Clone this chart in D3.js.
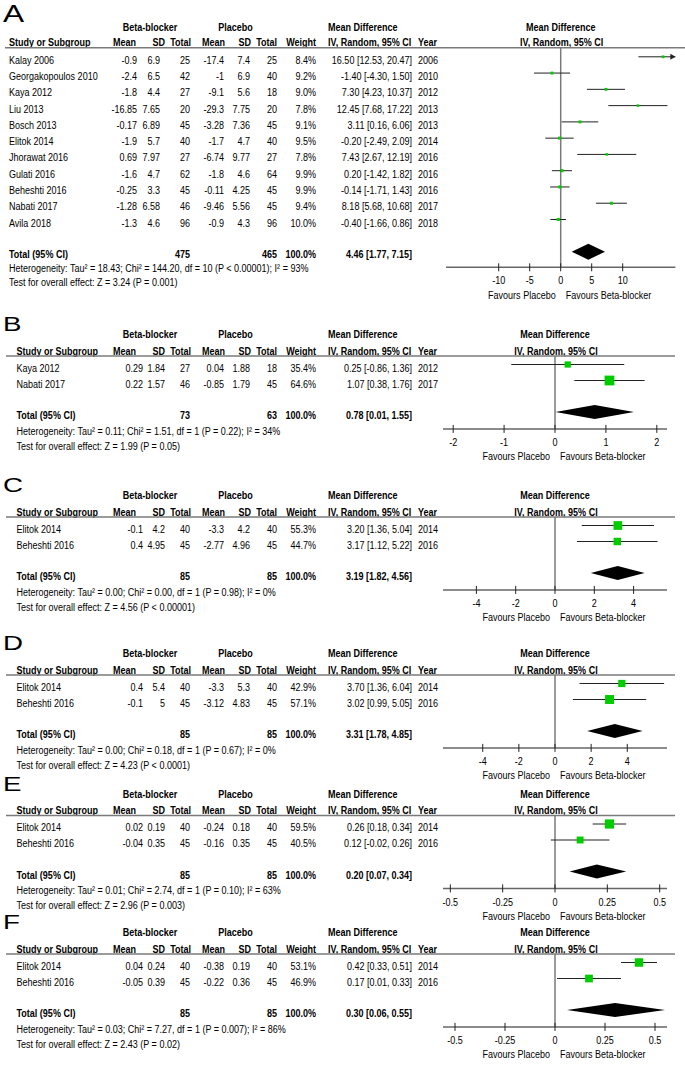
<!DOCTYPE html>
<html><head><meta charset="utf-8">
<script src="https://cdn.jsdelivr.net/npm/d3@7"></script>
<style>html,body{margin:0;padding:0;background:#fff}</style>
</head><body>
<svg id="c" width="685" height="1089"></svg>
<script>
// ---------------- DATA ----------------
// Panel A
const studiesA = ["Kalay 2006","Georgakopoulos 2010","Kaya 2012","Liu 2013","Bosch 2013","Elitok 2014","Jhorawat 2016","Gulati 2016","Beheshti 2016","Nabati 2017","Avila 2018"];
const bbMeanA = [-0.9,-2.4,-1.8,-16.85,-0.17,-1.9,0.69,-1.6,-0.25,-1.28,-1.3];
const bbSdA   = [6.9,6.5,4.4,7.65,6.89,5.7,7.97,4.7,3.3,6.58,4.6];
const bbNA    = [25,42,27,20,45,40,27,62,45,46,96];
const plMeanA = [-17.4,-1,-9.1,-29.3,-3.28,-1.7,-6.74,-1.8,-0.11,-9.46,-0.9];
const plSdA   = [7.4,6.9,5.6,7.75,7.36,4.7,9.77,4.6,4.25,5.56,4.3];
const plNA    = [25,40,18,20,45,40,27,64,45,45,96];
const weightA = [8.4,9.2,9.0,7.8,9.1,9.5,7.8,9.9,9.9,9.4,10.0];
const mdA     = [16.50,-1.40,7.30,12.45,3.11,-0.20,7.43,0.20,-0.14,8.18,-0.40];
const loA     = [12.53,-4.30,4.23,7.68,0.16,-2.49,2.67,-1.42,-1.71,5.68,-1.66];
const hiA     = [20.47,1.50,10.37,17.22,6.06,2.09,12.19,1.82,1.43,10.68,0.86];
const yearA   = [2006,2010,2012,2013,2013,2014,2016,2016,2016,2017,2018];
const totalA  = {bbN:475, plN:465, md:4.46, lo:1.77, hi:7.15};
const hetA    = "Heterogeneity: Tau² = 18.43; Chi² = 144.20, df = 10 (P < 0.00001); I² = 93%";
const testA   = "Test for overall effect: Z = 3.24 (P = 0.001)";
const ticksA  = [-10,-5,0,5,10];

// Panel B
const studiesB = ["Kaya 2012","Nabati 2017"];
const bbMeanB = [0.29,0.22], bbSdB = [1.84,1.57], bbNB = [27,46];
const plMeanB = [0.04,-0.85], plSdB = [1.88,1.79], plNB = [18,45];
const weightB = [35.4,64.6];
const mdB = [0.25,1.07], loB = [-0.86,0.38], hiB = [1.36,1.76];
const yearB = [2012,2017];
const totalB = {bbN:73, plN:63, md:0.78, lo:0.01, hi:1.55};
const hetB = "Heterogeneity: Tau² = 0.11; Chi² = 1.51, df = 1 (P = 0.22); I² = 34%";
const testB = "Test for overall effect: Z = 1.99 (P = 0.05)";
const ticksB = [-2,-1,0,1,2];

// Panel C
const studiesC = ["Elitok 2014","Beheshti 2016"];
const bbMeanC = [-0.1,0.4], bbSdC = [4.2,4.95], bbNC = [40,45];
const plMeanC = [-3.3,-2.77], plSdC = [4.2,4.96], plNC = [40,45];
const weightC = [55.3,44.7];
const mdC = [3.20,3.17], loC = [1.36,1.12], hiC = [5.04,5.22];
const yearC = [2014,2016];
const totalC = {bbN:85, plN:85, md:3.19, lo:1.82, hi:4.56};
const hetC = "Heterogeneity: Tau² = 0.00; Chi² = 0.00, df = 1 (P = 0.98); I² = 0%";
const testC = "Test for overall effect: Z = 4.56 (P < 0.00001)";
const ticksC = [-4,-2,0,2,4];

// Panel D
const studiesD = ["Elitok 2014","Beheshti 2016"];
const bbMeanD = [0.4,-0.1], bbSdD = [5.4,5], bbND = [40,45];
const plMeanD = [-3.3,-3.12], plSdD = [5.3,4.83], plND = [40,45];
const weightD = [42.9,57.1];
const mdD = [3.70,3.02], loD = [1.36,0.99], hiD = [6.04,5.05];
const yearD = [2014,2016];
const totalD = {bbN:85, plN:85, md:3.31, lo:1.78, hi:4.85};
const hetD = "Heterogeneity: Tau² = 0.00; Chi² = 0.18, df = 1 (P = 0.67); I² = 0%";
const testD = "Test for overall effect: Z = 4.23 (P < 0.0001)";
const ticksD = [-4,-2,0,2,4];

// Panel E
const studiesE = ["Elitok 2014","Beheshti 2016"];
const bbMeanE = [0.02,-0.04], bbSdE = [0.19,0.35], bbNE = [40,45];
const plMeanE = [-0.24,-0.16], plSdE = [0.18,0.35], plNE = [40,45];
const weightE = [59.5,40.5];
const mdE = [0.26,0.12], loE = [0.18,-0.02], hiE = [0.34,0.26];
const yearE = [2014,2016];
const totalE = {bbN:85, plN:85, md:0.20, lo:0.07, hi:0.34};
const hetE = "Heterogeneity: Tau² = 0.01; Chi² = 2.74, df = 1 (P = 0.10); I² = 63%";
const testE = "Test for overall effect: Z = 2.96 (P = 0.003)";
const ticksE = [-0.5,-0.25,0,0.25,0.5];

// Panel F
const studiesF = ["Elitok 2014","Beheshti 2016"];
const bbMeanF = [0.04,-0.05], bbSdF = [0.24,0.39], bbNF = [40,45];
const plMeanF = [-0.38,-0.22], plSdF = [0.19,0.36], plNF = [40,45];
const weightF = [53.1,46.9];
const mdF = [0.42,0.17], loF = [0.33,0.01], hiF = [0.51,0.33];
const yearF = [2014,2016];
const totalF = {bbN:85, plN:85, md:0.30, lo:0.06, hi:0.55};
const hetF = "Heterogeneity: Tau² = 0.03; Chi² = 7.27, df = 1 (P = 0.007); I² = 86%";
const testF = "Test for overall effect: Z = 2.43 (P = 0.02)";
const ticksF = [-0.5,-0.25,0,0.25,0.5];

// ---------------- BUILD ----------------
function mk(letter, studies, bbMean, bbSd, bbN, plMean, plSd, plN, weight, md, lo, hi, year, total, het, test, ticks) {
  return {letter, total, het, test, ticks,
    rows: studies.map((s,i)=>({name:s, bbMean:bbMean[i], bbSd:bbSd[i], bbN:bbN[i], plMean:plMean[i], plSd:plSd[i], plN:plN[i], w:weight[i], md:md[i], lo:lo[i], hi:hi[i], year:year[i]}))};
}
const panels = [
  mk("A",studiesA,bbMeanA,bbSdA,bbNA,plMeanA,plSdA,plNA,weightA,mdA,loA,hiA,yearA,totalA,hetA,testA,ticksA),
  mk("B",studiesB,bbMeanB,bbSdB,bbNB,plMeanB,plSdB,plNB,weightB,mdB,loB,hiB,yearB,totalB,hetB,testB,ticksB),
  mk("C",studiesC,bbMeanC,bbSdC,bbNC,plMeanC,plSdC,plNC,weightC,mdC,loC,hiC,yearC,totalC,hetC,testC,ticksC),
  mk("D",studiesD,bbMeanD,bbSdD,bbND,plMeanD,plSdD,plND,weightD,mdD,loD,hiD,yearD,totalD,hetD,testD,ticksD),
  mk("E",studiesE,bbMeanE,bbSdE,bbNE,plMeanE,plSdE,plNE,weightE,mdE,loE,hiE,yearE,totalE,hetE,testE,ticksE),
  mk("F",studiesF,bbMeanF,bbSdF,bbNF,plMeanF,plSdF,plNF,weightF,mdF,loF,hiF,yearF,totalF,hetF,testF,ticksF)
];

// layout (style only)
const layoutA = {h1:27.3, studyX:9, sepX0:5, sepX1:685, dom:[-18.5,18.5], rng:[446,675.4], bbMeanX:137, bbSdX:160,
  h2:15.4, sep:20.4, row0:33, step:16.27, total:227.4, het:241.4, test:255.4, axis:240, tick:253.4, fav:268.4, dia:224.4, diaH:8, sqK:0.55, letterSize:24, letterDy:-5.3};
function lay(h1, dom){ return {h1, studyX:16.5, sepX0:6, sepX1:675, dom, rng:[443,667], bbMeanX:143, bbSdX:165,
  h2:16.5, sep:21.5, row0:33.5, step:16, total:81, het:96.5, test:111.5, axis:94.4, tick:108.4, fav:122.4, dia:77.5, diaH:7, sqK:0.43, letterSize:21, letterDy:-3.5}; }
const layouts = [layoutA, lay(334.5,[-2.2,2.2]), lay(495.5,[-5.7,5.7]), lay(653.5,[-6.2,6.2]), lay(794,[-0.535,0.535]), lay(932.5,[-0.56,0.56])];

// font detection
function hasFont(f){ const c=document.createElement('canvas').getContext('2d'); c.font='40px monospace'; const a=c.measureText('Study or Subgroup 0123').width; c.font="40px '"+f+"', monospace"; const b=c.measureText('Study or Subgroup 0123').width; return Math.abs(a-b)>0.5; }
const NARROW = hasFont('Liberation Sans Narrow');
const FAM = NARROW ? "'Liberation Sans Narrow', sans-serif" : "'Liberation Sans', Arial, sans-serif";
const SX = NARROW ? 1 : 0.82;

const svg = d3.select('#c');
function txt(g, x, y, s, o={}) {
  return g.append('text')
    .attr('transform', `translate(${x},${y}) scale(${o.sx ?? SX},1)`)
    .attr('text-anchor', o.anchor || 'start')
    .attr('font-family', o.fam || FAM)
    .attr('font-size', o.size || 11)
    .attr('font-weight', o.bold ? 'bold' : 'normal')
    .attr('fill', '#000')
    .text(s);
}
const B = 3.5; // baseline shift from measured row centre
const f2 = v => v.toFixed(2);
const ci = (m,l,h) => `${f2(m)} [${f2(l)}, ${f2(h)}]`;

const X = {bbMeanH:136, bbSdH:165, bbN:190, plMean:224, plSd:250, plN:277, w:316, ci:412, ciH:328, year:418};

panels.forEach((p, pi) => {
  const L = layouts[pi];
  const g = svg.append('g');
  const y0 = L.h1;
  const x = d3.scaleLinear().domain(L.dom).range(L.rng);
  const zx = x(0);

  // letter
  txt(g, 3, y0 + L.letterDy, p.letter, {size:L.letterSize, sx:1.32, fam:"'Liberation Sans', Arial, sans-serif"});

  // header row 1
  txt(g, 150, y0 + B, 'Beta-blocker', {anchor:'middle', bold:true});
  txt(g, 235.5, y0 + B, 'Placebo', {anchor:'middle', bold:true});
  txt(g, X.ciH, y0 + B, 'Mean Difference', {bold:true});
  txt(g, zx, y0 + B, 'Mean Difference', {anchor:'middle', bold:true});
  // header row 2
  const yh2 = y0 + L.h2 + B;
  txt(g, L.studyX, yh2, 'Study or Subgroup', {bold:true});
  txt(g, X.bbMeanH, yh2, 'Mean', {anchor:'end', bold:true});
  txt(g, X.bbSdH, yh2, 'SD', {anchor:'end', bold:true});
  txt(g, X.bbN + 1, yh2, 'Total', {anchor:'end', bold:true});
  txt(g, X.plMean + 1, yh2, 'Mean', {anchor:'end', bold:true});
  txt(g, X.plSd + 1, yh2, 'SD', {anchor:'end', bold:true});
  txt(g, X.plN, yh2, 'Total', {anchor:'end', bold:true});
  txt(g, X.w, yh2, 'Weight', {anchor:'end', bold:true});
  txt(g, X.ciH, yh2, 'IV, Random, 95% CI', {bold:true});
  txt(g, X.year, yh2, 'Year', {bold:true});
  txt(g, zx + 1, yh2, 'IV, Random, 95% CI', {anchor:'middle', bold:true});

  // separator
  const ys = y0 + L.sep;
  g.append('line').attr('x1', L.sepX0).attr('x2', L.sepX1).attr('y1', ys).attr('y2', ys)
    .attr('stroke', '#7a7a7a').attr('stroke-width', 1.5);

  // zero line
  const ya = y0 + L.axis;
  g.append('line').attr('x1', zx).attr('x2', zx).attr('y1', ys).attr('y2', ya)
    .attr('stroke', '#7a7a7a').attr('stroke-width', 1.5);

  // study rows
  p.rows.forEach((r, i) => {
    const yr = y0 + L.row0 + i * L.step;
    const yt = yr + B;
    txt(g, L.studyX, yt, r.name);
    txt(g, L.bbMeanX, yt, String(r.bbMean), {anchor:'end'});
    txt(g, L.bbSdX, yt, String(r.bbSd), {anchor:'end'});
    txt(g, X.bbN, yt, String(r.bbN), {anchor:'end'});
    txt(g, X.plMean, yt, String(r.plMean), {anchor:'end'});
    txt(g, X.plSd, yt, String(r.plSd), {anchor:'end'});
    txt(g, X.plN, yt, String(r.plN), {anchor:'end'});
    txt(g, X.w, yt, r.w.toFixed(1) + '%', {anchor:'end'});
    txt(g, X.ci, yt, ci(r.md, r.lo, r.hi), {anchor:'end'});
    txt(g, X.year, yt, String(r.year));

    // CI line
    const ym = yr - 3.5;
    const dmax = L.dom[1], dmin = L.dom[0];
    const lx1 = x(Math.max(r.lo, dmin)), lx2 = x(Math.min(r.hi, dmax));
    g.append('line').attr('x1', lx1).attr('x2', lx2).attr('y1', ym).attr('y2', ym)
      .attr('stroke', '#222').attr('stroke-width', 1);
    if (r.hi > dmax) {
      const ex = x(dmax);
      g.append('path').attr('d', `M${ex},${ym} L${ex-5},${ym-3} L${ex-5},${ym+3} Z`).attr('fill', '#222');
    }
    if (r.lo < dmin) {
      const ex = x(dmin);
      g.append('path').attr('d', `M${ex},${ym} L${ex+5},${ym-3} L${ex+5},${ym+3} Z`).attr('fill', '#222');
    }
    const s = L.sqK * Math.pow(r.w, 0.75);
    g.append('rect').attr('x', x(r.md) - s/2).attr('y', ym - s/2).attr('width', s).attr('height', s)
      .attr('fill', '#00cc00');
  });

  // total row
  const yT = y0 + L.total + B;
  txt(g, L.studyX, yT, 'Total (95% CI)', {bold:true});
  txt(g, X.bbN, yT, String(p.total.bbN), {anchor:'end', bold:true});
  txt(g, X.plN, yT, String(p.total.plN), {anchor:'end', bold:true});
  txt(g, X.w, yT, '100.0%', {anchor:'end', bold:true});
  txt(g, X.ci, yT, ci(p.total.md, p.total.lo, p.total.hi), {anchor:'end', bold:true});
  const yd = y0 + L.dia;
  g.append('path').attr('d', `M${x(p.total.lo)},${yd} L${x(p.total.md)},${yd - L.diaH} L${x(p.total.hi)},${yd} L${x(p.total.md)},${yd + L.diaH} Z`)
    .attr('fill', '#000');

  // footers
  txt(g, L.studyX, y0 + L.het + B, p.het);
  txt(g, L.studyX, y0 + L.test + B, p.test);

  // axis
  g.append('line').attr('x1', L.rng[0]).attr('x2', L.rng[1]).attr('y1', ya).attr('y2', ya)
    .attr('stroke', '#666').attr('stroke-width', 1.5);
  p.ticks.forEach(t => {
    g.append('line').attr('x1', x(t)).attr('x2', x(t)).attr('y1', ya - 4).attr('y2', ya + 4)
      .attr('stroke', '#222').attr('stroke-width', 1);
    txt(g, x(t), y0 + L.tick + B, String(t), {anchor:'middle'});
  });
  txt(g, zx - 5, y0 + L.fav + B, 'Favours Placebo', {anchor:'end'});
  txt(g, zx + 5, y0 + L.fav + B, 'Favours Beta-blocker');
});
</script>
</body></html>
